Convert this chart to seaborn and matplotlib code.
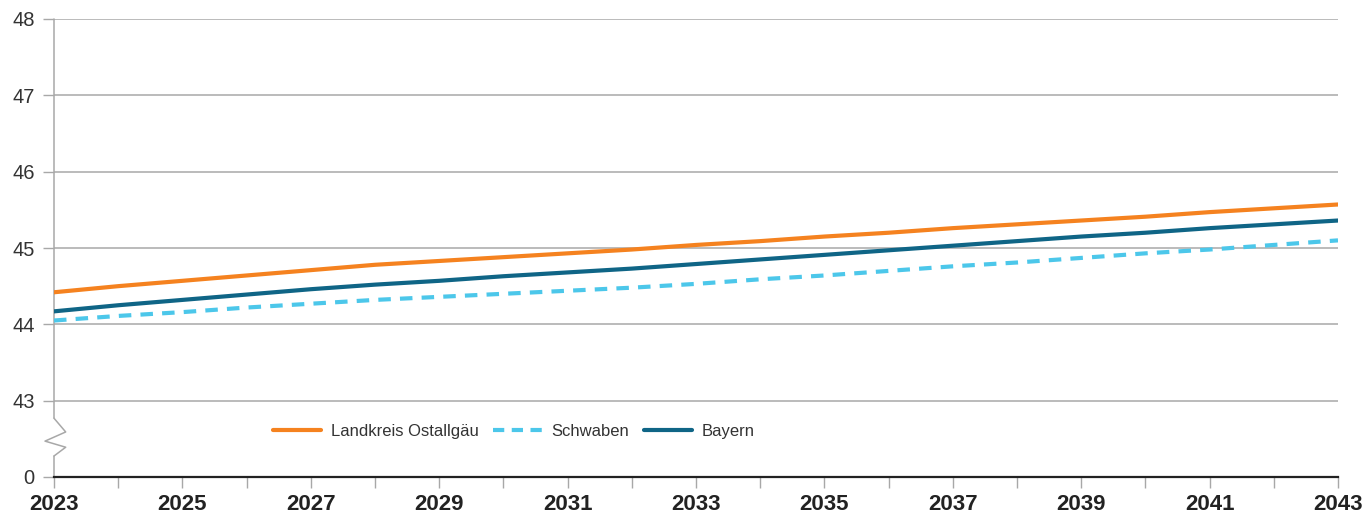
import matplotlib
matplotlib.use("Agg")
import matplotlib.pyplot as plt
import matplotlib.transforms as mtransforms
import numpy as np
import pandas as pd
import seaborn as sns

# Durchschnittsalter der Bevölkerung, Vorausberechnung 2023-2043
years = list(range(2023, 2044))
ostallgaeu = [44.42, 44.50, 44.57, 44.64, 44.71, 44.78, 44.83, 44.88, 44.93, 44.98,
              45.04, 45.09, 45.15, 45.20, 45.26, 45.31, 45.36, 45.41, 45.47, 45.52, 45.57]
schwaben = [44.05, 44.11, 44.16, 44.22, 44.27, 44.32, 44.36, 44.40, 44.44, 44.48,
            44.53, 44.59, 44.64, 44.70, 44.76, 44.81, 44.87, 44.93, 44.98, 45.04, 45.10]
bayern = [44.17, 44.25, 44.32, 44.39, 44.46, 44.52, 44.57, 44.63, 44.68, 44.73,
          44.79, 44.85, 44.91, 44.97, 45.03, 45.09, 45.15, 45.20, 45.26, 45.31, 45.36]
series_names = ["Landkreis Ostallgäu", "Schwaben", "Bayern"]

# broken axis: the value 0 is shown one unit below 43
y_ticks = [42, 43, 44, 45, 46, 47, 48]
y_labels = ["0", "43", "44", "45", "46", "47", "48"]
x_label_years = list(range(2023, 2044, 2))

colors = {"Landkreis Ostallgäu": "#F5821F", "Schwaben": "#4CC7EA", "Bayern": "#0F6586"}
dashes = {"Landkreis Ostallgäu": "", "Schwaben": (3.0, 2.2), "Bayern": ""}

df = pd.DataFrame({
    "Jahr": years * 3,
    "Wert": ostallgaeu + schwaben + bayern,
    "Gebiet": [n for n in series_names for _ in years],
})

sns.set_theme(style="white")
plt.rcParams["font.family"] = ["Liberation Sans", "DejaVu Sans"]

fig = plt.figure(figsize=(13.68, 5.14), dpi=100)
ax = fig.add_axes([54 / 1368, 1 - 477 / 514, 1284 / 1368, 458 / 514])

grid_gray = "#A8A8A8"

sns.lineplot(data=df, x="Jahr", y="Wert", hue="Gebiet", style="Gebiet",
             hue_order=series_names, style_order=series_names,
             palette=colors, dashes=dashes, linewidth=3.0, ax=ax,
             legend=False, zorder=3)

ax.set_xlim(2023, 2043)
ax.set_ylim(42, 48)
ax.set_xlabel("")
ax.set_ylabel("")

# horizontal gridlines
for yv in y_ticks[1:]:
    ax.axhline(yv, color=grid_gray, linewidth=1.1, zorder=1)

ax.set_yticks(y_ticks)
ax.set_yticklabels(y_labels, fontsize=14.5, color="#333333")
ax.set_xticks(years)
ax.set_xticklabels([str(y) if y in x_label_years else "" for y in years],
                   fontsize=16, fontweight="bold", color="#222222")
ax.tick_params(axis="y", direction="out", length=8, width=1.0, color=grid_gray, pad=6, left=True)
ax.tick_params(axis="x", direction="out", length=8, width=1.0, color=grid_gray, pad=4, bottom=True)

for side in ["top", "right", "left"]:
    ax.spines[side].set_visible(False)
ax.spines["bottom"].set_color("#222222")
ax.spines["bottom"].set_linewidth(1.6)
ax.spines["bottom"].set_zorder(4)

# left axis line with break symbol
trans = mtransforms.blended_transform_factory(ax.transAxes, ax.transData)
ax.plot([0, 0], [48, 42.77], color=grid_gray, lw=1.1, transform=trans, clip_on=False, zorder=2)
ax.plot([0, 0.0091, -0.007, 0.0091, 0], [42.77, 42.59, 42.47, 42.39, 42.275],
        color=grid_gray, lw=1.1, transform=trans, clip_on=False, zorder=2)
ax.plot([0, 0], [42.275, 42], color=grid_gray, lw=1.1, transform=trans, clip_on=False, zorder=2)

# legend
handles = [
    plt.Line2D([], [], color=colors[n], linewidth=3.0,
               linestyle=(0, (2.7, 1.8)) if dashes[n] else "-")
    for n in series_names
]
leg = ax.legend(handles, series_names, loc="center left", bbox_to_anchor=(0.1706, 0.1),
                ncol=3, frameon=False, fontsize=12, handlelength=2.9, handletextpad=0.6,
                columnspacing=0.85, borderpad=0, borderaxespad=0)
for t in leg.get_texts():
    t.set_color("#333333")

fig.savefig("out.png", dpi=100)
